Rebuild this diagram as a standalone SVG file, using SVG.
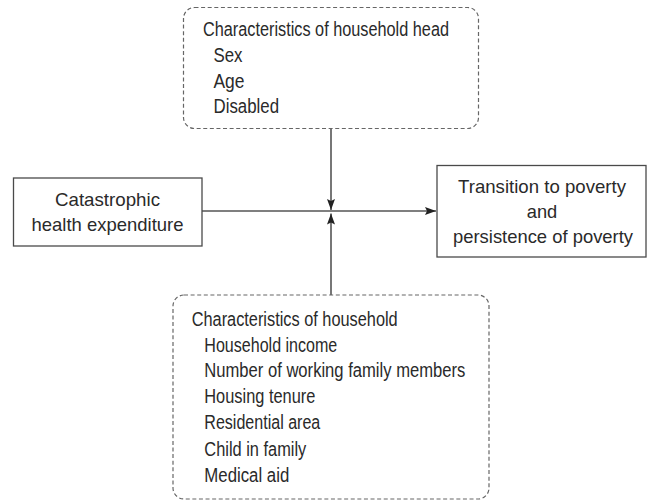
<svg xmlns="http://www.w3.org/2000/svg" width="652" height="501" viewBox="0 0 652 501">
  <style>
    .solid { fill: #ffffff; stroke: #4a4a4a; stroke-width: 1.3; }
    .dashed { fill: #ffffff; stroke: #666666; stroke-width: 1.2; stroke-dasharray: 4 2.6; }
    .conn { stroke: #555555; stroke-width: 1.6; fill: none; }
    .t { font-family: "Liberation Sans", Arial, sans-serif; font-size: 19px; fill: #2a2a2a; }
    .d { font-size: 20px; }
    .c { text-anchor: middle; }
  </style>
  <defs>
    <marker id="arr" viewBox="0 0 11 8" refX="11" refY="4" markerWidth="11" markerHeight="8" orient="auto" markerUnits="userSpaceOnUse">
      <path d="M0,0 L11,4 L0,8 L2,4 z" fill="#222222"/>
    </marker>
  </defs>
  <rect width="652" height="501" fill="#ffffff"/>

  <g id="connectors">
    <line class="conn" x1="202" y1="211" x2="436" y2="211" marker-end="url(#arr)"/>
    <line class="conn" x1="331" y1="128" x2="331" y2="210" marker-end="url(#arr)"/>
    <line class="conn" x1="331" y1="295" x2="331" y2="213.5" marker-end="url(#arr)"/>
  </g>

  <g id="head-characteristics">
    <rect class="dashed" x="183.5" y="7.5" width="295" height="121" rx="11" ry="11"/>
    <text class="t d" x="203" y="36" textLength="246" lengthAdjust="spacingAndGlyphs">Characteristics of household head</text>
    <text class="t d" x="213.5" y="62" textLength="29" lengthAdjust="spacingAndGlyphs">Sex</text>
    <text class="t d" x="213.5" y="87.5" textLength="31" lengthAdjust="spacingAndGlyphs">Age</text>
    <text class="t d" x="213.5" y="113" textLength="65.5" lengthAdjust="spacingAndGlyphs">Disabled</text>
  </g>

  <g id="che">
    <rect class="solid" x="13.5" y="178" width="188.5" height="68"/>
    <text class="t c" x="107.5" y="205.7" textLength="105" lengthAdjust="spacingAndGlyphs">Catastrophic</text>
    <text class="t c" x="107.5" y="231.4" textLength="152" lengthAdjust="spacingAndGlyphs">health expenditure</text>
  </g>

  <g id="poverty">
    <rect class="solid" x="437" y="165.5" width="209" height="91.5"/>
    <text class="t c" x="542" y="192.5" textLength="168" lengthAdjust="spacingAndGlyphs">Transition to poverty</text>
    <text class="t c" x="542" y="217.5" textLength="30.5" lengthAdjust="spacingAndGlyphs">and</text>
    <text class="t c" x="543" y="242.5" textLength="180" lengthAdjust="spacingAndGlyphs">persistence of poverty</text>
  </g>

  <g id="household-characteristics">
    <rect class="dashed" x="173" y="295" width="316" height="204" rx="11" ry="11"/>
    <text class="t d" x="191.7" y="325.5" textLength="206" lengthAdjust="spacingAndGlyphs">Characteristics of household</text>
    <text class="t d" x="204.3" y="351.5" textLength="133" lengthAdjust="spacingAndGlyphs">Household income</text>
    <text class="t d" x="204.3" y="377.3" textLength="261" lengthAdjust="spacingAndGlyphs">Number of working family members</text>
    <text class="t d" x="204.3" y="403" textLength="111" lengthAdjust="spacingAndGlyphs">Housing tenure</text>
    <text class="t d" x="204.3" y="429" textLength="116" lengthAdjust="spacingAndGlyphs">Residential area</text>
    <text class="t d" x="204.3" y="455.5" textLength="102" lengthAdjust="spacingAndGlyphs">Child in family</text>
    <text class="t d" x="204.3" y="481.5" textLength="85" lengthAdjust="spacingAndGlyphs">Medical aid</text>
  </g>
</svg>
